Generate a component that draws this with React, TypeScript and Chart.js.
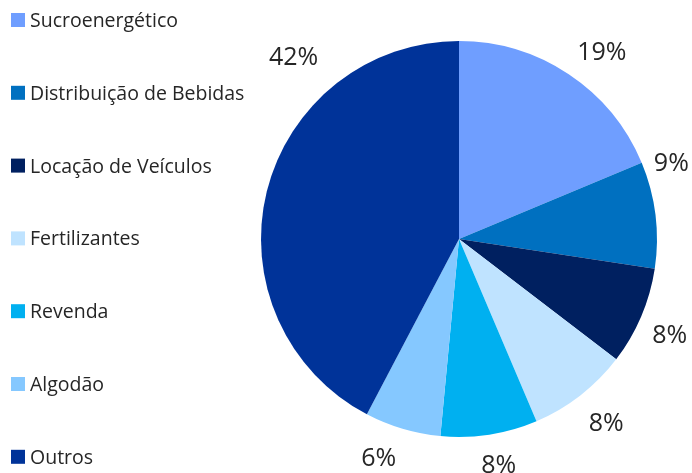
import React, { useEffect, useRef } from "react";
import { Chart, registerables } from "chart.js";

Chart.register(...registerables);

const categories = [
  "Sucroenergético",
  "Distribuição de Bebidas",
  "Locação de Veículos",
  "Fertilizantes",
  "Revenda",
  "Algodão",
  "Outros",
];
const shares = [18.7, 8.7, 8.0, 8.2, 7.9, 6.2, 42.3];
const percentLabels = ["19%", "9%", "8%", "8%", "8%", "6%", "42%"];
const colors = ["#6F9EFF", "#0070C0", "#002060", "#BFE3FF", "#00B0F0", "#85C8FF", "#003399"];

// label placement tweaks: [angle shift in degrees, distance beyond outer radius]
const labelNudge: [number, number][] = [
  [3.6, 38],
  [-13, 28],
  [1.2, 33],
  [-1, 37],
  [-1.2, 30],
  [3.7, 34],
  [34.1, 49],
];

const TEXT_COLOR = "#262626";
const FONT = "'Open Sans', sans-serif";

const labelsPlugin = {
  id: "customLabels",
  afterDraw(chart: any) {
    const ctx = chart.ctx as CanvasRenderingContext2D;
    const meta = chart.getDatasetMeta(0);
    ctx.save();
    // percentage labels
    ctx.fillStyle = TEXT_COLOR;
    ctx.font = `25px ${FONT}`;
    ctx.textAlign = "center";
    ctx.textBaseline = "alphabetic";
    meta.data.forEach((arc: any, i: number) => {
      const p = arc.getProps(["x", "y", "startAngle", "endAngle", "outerRadius"], true);
      const [shift, off] = labelNudge[i];
      const mid = (p.startAngle + p.endAngle) / 2 + (shift * Math.PI) / 180;
      const d = p.outerRadius + off;
      const lx = p.x + Math.cos(mid) * d;
      const ly = p.y + Math.sin(mid) * d;
      ctx.fillText(percentLabels[i], lx, ly + 9);
    });
    // legend
    ctx.font = `19.5px ${FONT}`;
    ctx.textAlign = "left";
    const top = 20;
    const step = 72.8;
    categories.forEach((name, i) => {
      const cy = top + i * step;
      ctx.fillStyle = colors[i];
      ctx.fillRect(11, cy - 7, 14, 14);
      ctx.fillStyle = TEXT_COLOR;
      ctx.fillText(name, 30, cy + 7);
    });
    ctx.restore();
  },
};

export default function App() {
  const ref = useRef<HTMLCanvasElement | null>(null);
  useEffect(() => {
    document.body.style.margin = "0";
    if (!ref.current) return;
    const chart = new Chart(ref.current, {
      type: "pie",
      data: {
        labels: categories,
        datasets: [
          {
            data: shares,
            backgroundColor: colors,
            borderWidth: 0,
          },
        ],
      },
      options: {
        animation: false,
        responsive: false,
        layout: { padding: { left: 261, right: 35, top: 41, bottom: 36 } },
        plugins: {
          legend: { display: false },
          tooltip: { enabled: false },
        },
      },
      plugins: [labelsPlugin],
    });
    return () => chart.destroy();
  }, []);
  return (
    <div style={{ width: 692, height: 473, background: "#fff" }}>
      <canvas ref={ref} width={692} height={473} />
    </div>
  );
}
